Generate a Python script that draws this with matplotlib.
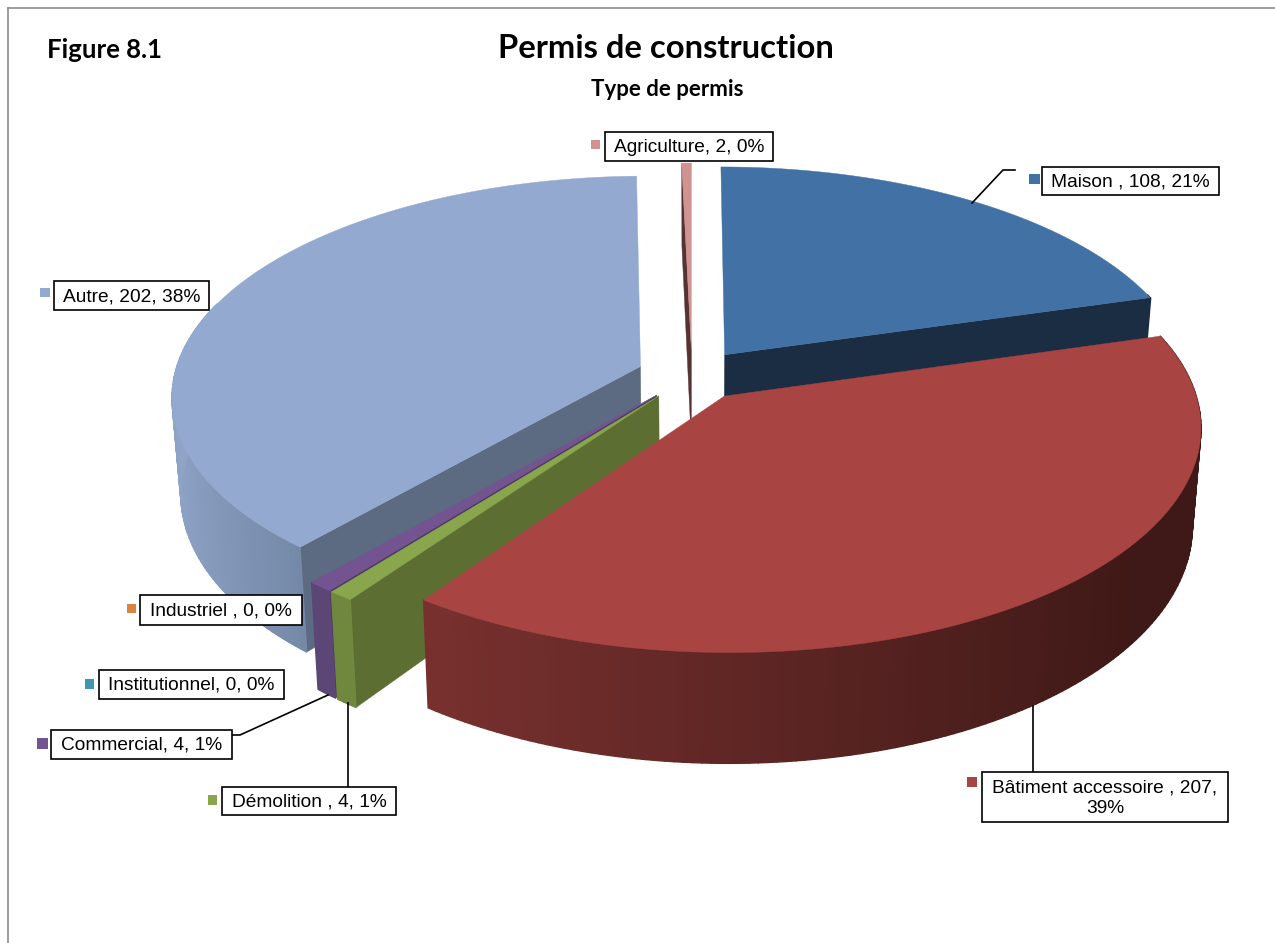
import numpy as np
import matplotlib
matplotlib.use("Agg")
import matplotlib.pyplot as plt
from matplotlib.collections import PolyCollection
from matplotlib.colors import to_rgb
from matplotlib.patches import Polygon, Rectangle

categories = ["Maison", "Bâtiment accessoire", "Démolition", "Commercial",
              "Institutionnel", "Industriel", "Autre", "Agriculture"]
values = [108, 207, 4, 4, 0, 0, 202, 2]
percents = [21, 39, 1, 1, 0, 0, 38, 0]
label_text = ["Maison , 108, 21%", "Bâtiment accessoire , 207,\n39%", "Démolition , 4, 1%",
              "Commercial, 4, 1%", "Institutionnel, 0, 0%", "Industriel , 0, 0%",
              "Autre, 202, 38%", "Agriculture, 2, 0%"]

top_colors = ["#4271A6", "#A84442", "#89A64C", "#735490", "#3F96AE", "#DB843D", "#93A9CF", "#D19392"]
wall_left = ["#2A4A70", "#8A3836", "#70883E", "#5C4675", "#30778B", "#B06A30", "#90A4C8", "#7A4A4A"]
wall_right = ["#1B2D43", "#3F1917", "#70883E", "#5C4675", "#30778B", "#B06A30", "#021625", "#5A3535"]
radial_colors = ["#1B2D43", "#3F1917", "#5C6E31", "#4A3860", "#265F6F", "#8A5326", "#5C6A82", "#553333"]

# label box (x0, y0, x1, y1), legend key (x0, y0, x1, y1)
boxes = [(1042, 167, 1219, 195), (982, 772, 1228, 822), (222, 787, 396, 815), (51, 730, 232, 759),
         (99, 670, 284, 699), (140, 595, 302, 625), (54, 281, 209, 310), (605, 132, 773, 161)]
keys = [(1029, 174, 1040, 184), (967, 777, 977, 787), (208, 795, 217, 805), (37, 738, 48, 749),
        (85, 679, 94, 689), (127, 604, 136, 613), (40, 288, 50, 297), (591, 140, 600, 149)]
leaders = [[(972, 203), (1003, 170), (1015, 170)], [(1033, 706), (1033, 772)], [(348, 703), (348, 787)],
           [(328, 695), (240, 735), (232, 735)]]

# fake 3d view of the pie, in pixels
CX, CY = 692, 375
R = 466
TILT = 0.466
PERSP = 0.13
DEPTH = 95
SHRINK = 0.017
EXPLODE = 55


def project(u, v, z=0.0):
    s = 1 / (1 + PERSP * v / R)
    return CX + u * s * (1 - SHRINK * z), CY - TILT * v * s + z * DEPTH * s


plt.rcParams["font.family"] = ["Liberation Sans", "DejaVu Sans"]
fig = plt.figure(figsize=(12.75, 9.43), dpi=100)
ax = fig.add_axes([0, 0, 1, 1])
ax.set_xlim(0, 1275)
ax.set_ylim(943, 0)
ax.axis("off")

total = sum(values)
sweeps = np.array(values) / total * 360
starts = 90 - np.concatenate([[0], np.cumsum(sweeps)[:-1]])

# back slices first, the front ones cover them
draw_order = [0, 7, 6, 3, 4, 5, 2, 1]
for i in draw_order:
    if values[i] == 0:
        continue
    a0 = starts[i]
    a1 = a0 - sweeps[i]
    mid = np.radians((a0 + a1) / 2)
    ou = EXPLODE * np.cos(mid)
    ov = EXPLODE * np.sin(mid)
    th = np.radians(np.linspace(a0, a1, max(int(sweeps[i]), 4)))
    us = ou + R * np.cos(th)
    vs = ov + R * np.sin(th)

    # flat sides, only those turned to the viewer
    for edge, normal in [(a0, a0 + 90), (a1, a1 - 90)]:
        if np.sin(np.radians(normal)) < -0.001:
            eu = ou + R * np.cos(np.radians(edge))
            ev = ov + R * np.sin(np.radians(edge))
            ax.add_patch(Polygon([project(ou, ov), project(eu, ev), project(eu, ev, 1), project(ou, ov, 1)],
                                 closed=True, fc=radial_colors[i], ec=radial_colors[i], lw=0.3, zorder=2))

    # curved side, shaded from left to right, the back part is hidden anyway
    quads = []
    cols = []
    for j in range(len(th) - 1):
        if np.sin(th[j]) > 0.3:
            continue
        quads.append([project(us[j], vs[j]), project(us[j + 1], vs[j + 1]),
                      project(us[j + 1], vs[j + 1], 1), project(us[j], vs[j], 1)])
        t = np.clip((np.cos(th[j]) + 1) / 1.8, 0, 1)
        cols.append(tuple((1 - t) * np.array(to_rgb(wall_left[i])) + t * np.array(to_rgb(wall_right[i]))))
    if quads:
        ax.add_collection(PolyCollection(quads, facecolors=cols, edgecolors=cols, linewidths=1.0, zorder=2))

    # top
    pts = [project(ou, ov)] + [project(u, v) for u, v in zip(us, vs)]
    ax.add_patch(Polygon(pts, closed=True, fc=top_colors[i], ec=top_colors[i], lw=0.3, zorder=2))

for pts in leaders:
    ax.plot([p[0] for p in pts], [p[1] for p in pts], color="black", lw=1.2, zorder=3)

for txt, box, key, col in zip(label_text, boxes, keys, top_colors):
    ax.add_patch(Rectangle((box[0], box[1]), box[2] - box[0], box[3] - box[1], fc="white", ec="black", lw=1.2, zorder=4))
    ax.text((box[0] + box[2]) / 2, (box[1] + box[3]) / 2 + 1, txt, ha="center", va="center",
            fontsize=13.8, color="black", linespacing=1.25, zorder=5)
    ax.add_patch(Rectangle((key[0], key[1]), key[2] - key[0], key[3] - key[1], fc=col, ec="none", zorder=4))

ax.text(47, 50, "Figure 8.1", fontsize=18.5, fontweight="bold", family="Lato", ha="left", va="center")
ax.text(666, 49, "Permis de construction", fontsize=23.6, fontweight="bold", family="Lato", ha="center", va="center")
ax.text(667, 90, "Type de permis", fontsize=16, fontweight="bold", family="Lato", ha="center", va="center")

# chart frame, only top and left show
ax.plot([7.5, 7.5], [943, 7.5], color="#8c8c8c", lw=1.2)
ax.plot([7.5, 1275], [7.5, 7.5], color="#8c8c8c", lw=1.2)

fig.savefig("out.png", dpi=100)
